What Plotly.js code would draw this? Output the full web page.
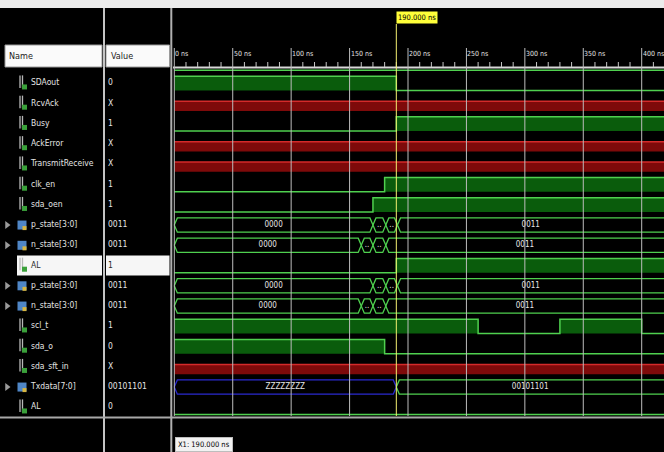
<!DOCTYPE html>
<html><head><meta charset="utf-8">
<script src="https://cdn.plot.ly/plotly-3.0.1.min.js"></script>
<style>html,body{margin:0;padding:0;background:#000;}#chart{width:664px;height:452px;}</style>
</head><body><div id="chart"></div>
<script>
// ---------- data ----------
const rowNames  = ["", "SDAout","RcvAck","Busy","AckError","TransmitReceive","clk_en","sda_oen","p_state[3:0]","n_state[3:0]","AL","p_state[3:0]","n_state[3:0]","scl_t","sda_o","sda_sft_in","Txdata[7:0]","AL"];
const rowValues = ["", "0","X","1","X","X","1","1","0011","0011","1","0011","0011","1","0","X","00101101","0"];
const rowKinds  = ["bit","bit","x","bit","x","x","bit","bit","bus","bus","bit","bus","bus","bit","bit","x","bus","bit"];

const tTop = [0];            const vTop = [0];
const tSDAout = [0, 190];    const vSDAout = [1, 0];
const tBusy = [0, 190];      const vBusy = [0, 1];
const tClkEn = [0, 180];     const vClkEn = [0, 1];
const tSdaOen = [0, 170];    const vSdaOen = [0, 1];
const tPState = [0, 170, 181, 191]; const vPState = ["0000", "0001", "0010", "0011"];
const tNState = [0, 160, 170, 181]; const vNState = ["0000", "0001", "0010", "0011"];
const tAL = [0, 190];        const vAL = [0, 1];
const tSclT = [0, 260, 330, 400]; const vSclT = [1, 0, 1, 0];
const tSdaO = [0, 180];      const vSdaO = [1, 0];
const tTxdata = [0, 190];    const vTxdata = ["ZZZZZZZZ", "00101101"];
const tAL2 = [0];            const vAL2 = [0];
const tX = [0];              const vX = ["X"];

const rowTimes  = [tTop, tSDAout, tX, tBusy, tX, tX, tClkEn, tSdaOen, tPState, tNState, tAL, tPState, tNState, tSclT, tSdaO, tX, tTxdata, tAL2];
const rowLevels = [vTop, vSDAout, vX, vBusy, vX, vX, vClkEn, vSdaOen, vPState, vNState, vAL, vPState, vNState, vSclT, vSdaO, vX, vTxdata, vAL2];

const majorTicks = [0, 50, 100, 150, 200, 250, 300, 350, 400];
const cursorTime = 190;
const highlightRow = 10;

// ---------- geometry helpers ----------
const W = 664, H = 452;
const px = x => x / W;
const py = y => 1 - y / H;
const T_MIN = (173 - 174.3) / 1.1685, T_MAX = (664 - 174.3) / 1.1685, T_END = 440;
const HALF = 0.35, TAPER = 2.6;
const FONT = "'Liberation Sans Narrow', 'DejaVu Sans Condensed', 'Liberation Sans', sans-serif";
const GREEN = '#4fd04f', GFILL = '#0a5c0c', RED = '#d42a2a', RFILL = '#7e0a0a', BLUE = '#2a2ad0';

const traces = [];
const busLabelX = [], busLabelY = [], busLabelT = [];

rowNames.forEach((nm, i) => {
  const pos = i - 1;
  const t = rowTimes[i], v = rowLevels[i], kind = rowKinds[i];
  const hi = pos - HALF, lo = pos + HALF;
  if (kind === 'bit') {
    traces.push({x: [t[0], T_END], y: [lo, lo], mode: 'lines', line: {width: 0}, hoverinfo: 'skip', showlegend: false});
    traces.push({x: t.concat([T_END]), y: v.map(l => l ? hi : lo).concat([v[v.length - 1] ? hi : lo]),
      mode: 'lines', line: {shape: 'hv', color: GREEN, width: 1.5}, fill: 'tonexty', fillcolor: GFILL,
      hoverinfo: 'skip', showlegend: false});
  } else if (kind === 'x') {
    traces.push({x: [t[0], T_END], y: [pos + 0.37, pos + 0.37], mode: 'lines', line: {width: 0}, hoverinfo: 'skip', showlegend: false});
    traces.push({x: [t[0], T_END], y: [pos - 0.11, pos - 0.11], mode: 'lines', line: {color: RED, width: 1.5},
      fill: 'tonexty', fillcolor: RFILL, hoverinfo: 'skip', showlegend: false});
  } else {
    const groups = {};
    t.forEach((t0, k) => {
      const t1 = k + 1 < t.length ? t[k + 1] : T_END;
      const col = /Z/.test(v[k]) ? BLUE : GREEN;
      if (!groups[col]) groups[col] = {x: [], y: []};
      const g = groups[col];
      g.x.push(t0, t0 + TAPER, t1 - TAPER, t1, t1 - TAPER, t0 + TAPER, t0, null);
      g.y.push(pos, hi, hi, pos, lo, lo, pos, null);
      const a = Math.max(t0, T_MIN), b = Math.min(t1, T_MAX);
      busLabelX.push((a + b) / 2);
      busLabelY.push(pos);
      busLabelT.push((t1 - t0) < 25 ? '..' : v[k]);
    });
    Object.keys(groups).forEach(col => {
      traces.push({x: groups[col].x, y: groups[col].y, mode: 'lines', line: {color: col, width: 1.3},
        connectgaps: false, hoverinfo: 'skip', showlegend: false});
    });
  }
});

traces.push({x: busLabelX, y: busLabelY, text: busLabelT, mode: 'text', textposition: 'middle center',
  textfont: {family: FONT, size: 8, color: '#e6e6e6'}, hoverinfo: 'skip', showlegend: false});

// ---------- name / value panel ----------
const textCol = rowNames.map((_, i) => i === highlightRow ? '#2a2a2a' : '#e4e4e4');
const rowPos = rowNames.map((_, i) => i - 1);
const shown = rowNames.map((n, i) => n !== '');
const sel = arr => arr.filter((_, i) => shown[i]);

traces.push({x: sel(rowNames).map(() => 31), y: sel(rowPos), text: sel(rowNames), xaxis: 'x2', mode: 'text',
  textposition: 'middle right', textfont: {family: FONT, size: 8.5, color: sel(textCol)}, hoverinfo: 'skip', showlegend: false});
traces.push({x: sel(rowValues).map(() => 108), y: sel(rowPos), text: sel(rowValues), xaxis: 'x2', mode: 'text',
  textposition: 'middle right', textfont: {family: FONT, size: 8.5, color: sel(textCol)}, hoverinfo: 'skip', showlegend: false});

// icons
const bitRows = rowPos.filter((p, i) => shown[i] && rowKinds[i] !== 'bus');
const busRows = rowPos.filter((p, i) => shown[i] && rowKinds[i] === 'bus');
traces.push({x: bitRows.map(() => 20), y: bitRows.map(p => p - 0.08), xaxis: 'x2', mode: 'markers',
  marker: {symbol: 'line-ns', size: 9, line: {color: '#b8b8b8', width: 1.3}}, hoverinfo: 'skip', showlegend: false});
traces.push({x: bitRows.map(() => 22.5), y: bitRows.map(p => p - 0.08), xaxis: 'x2', mode: 'markers',
  marker: {symbol: 'line-ns', size: 9, line: {color: '#b8b8b8', width: 1.3}}, hoverinfo: 'skip', showlegend: false});
traces.push({x: bitRows.map(() => 24.5), y: bitRows.map(p => p + 0.18), xaxis: 'x2', mode: 'markers',
  marker: {symbol: 'square', size: 5, color: '#3aa03a'}, hoverinfo: 'skip', showlegend: false});
traces.push({x: busRows.map(() => 7), y: busRows, xaxis: 'x2', mode: 'markers',
  marker: {symbol: 'triangle-right', size: 7, color: '#9a9a9a'}, hoverinfo: 'skip', showlegend: false});
traces.push({x: busRows.map(() => 22), y: busRows, xaxis: 'x2', mode: 'markers',
  marker: {symbol: 'square', size: 9, color: '#4f86c6'}, hoverinfo: 'skip', showlegend: false});
traces.push({x: busRows.map(() => 24.5), y: busRows.map(p => p + 0.15), xaxis: 'x2', mode: 'markers',
  marker: {symbol: 'square', size: 4, color: '#d8b640'}, hoverinfo: 'skip', showlegend: false});

// ---------- decorations ----------
const shapes = [];
shapes.push({type: 'rect', xref: 'paper', yref: 'paper', x0: 0, x1: 1, y0: py(8), y1: 1, fillcolor: '#ececec', line: {width: 0}, layer: 'below'});
shapes.push({type: 'rect', xref: 'paper', yref: 'paper', x0: px(5), x1: px(102), y0: py(67), y1: py(45), fillcolor: '#fafafa', line: {color: '#9a9a9a', width: 1}, layer: 'below'});
shapes.push({type: 'rect', xref: 'paper', yref: 'paper', x0: px(106), x1: px(169.5), y0: py(67), y1: py(45), fillcolor: '#fafafa', line: {color: '#9a9a9a', width: 1}, layer: 'below'});
const hy = 83.3 + (highlightRow - 1) * 20.25;
shapes.push({type: 'rect', xref: 'paper', yref: 'paper', x0: px(17), x1: px(102), y0: py(hy + 10), y1: py(hy - 10), fillcolor: '#f6f6f6', line: {width: 0}, layer: 'below'});
shapes.push({type: 'rect', xref: 'paper', yref: 'paper', x0: px(106), x1: px(169.5), y0: py(hy + 10), y1: py(hy - 10), fillcolor: '#f6f6f6', line: {width: 0}, layer: 'below'});
shapes.push({type: 'line', xref: 'paper', yref: 'paper', x0: px(104), x1: px(104), y0: 0, y1: py(8), line: {color: '#c4c4c4', width: 2}});
shapes.push({type: 'line', xref: 'paper', yref: 'paper', x0: px(171.3), x1: px(171.3), y0: 0, y1: py(8), line: {color: '#b0b0b0', width: 2}});
shapes.push({type: 'line', xref: 'paper', yref: 'paper', x0: 0, x1: 1, y0: py(417.5), y1: py(417.5), line: {color: '#a8a8a8', width: 2}});
shapes.push({type: 'line', xref: 'paper', yref: 'paper', x0: px(173), x1: 1, y0: py(67.5), y1: py(67.5), line: {color: '#d8d8d8', width: 2}});
majorTicks.forEach(t => shapes.push({type: 'line', xref: 'x', yref: 'paper', x0: t, x1: t, y0: py(416), y1: py(48),
  line: {color: '#bdbdbd', width: 1}, layer: 'above'}));
for (let t = 10; t < T_MAX; t += 10) {
  if (t % 50 === 0) continue;
  shapes.push({type: 'line', xref: 'x', yref: 'paper', x0: t, x1: t, y0: py(67), y1: py(62), line: {color: '#c8c8c8', width: 1}});
}
shapes.push({type: 'line', xref: 'x', yref: 'paper', x0: cursorTime, x1: cursorTime, y0: py(416), y1: py(24),
  line: {color: '#f4f070', width: 1}, layer: 'above'});

const annotations = [];
annotations.push({xref: 'paper', yref: 'paper', x: px(7), y: py(56), xanchor: 'left', yanchor: 'middle', showarrow: false,
  text: 'Name', font: {family: FONT, size: 9, color: '#222'}});
annotations.push({xref: 'paper', yref: 'paper', x: px(109), y: py(56), xanchor: 'left', yanchor: 'middle', showarrow: false,
  text: 'Value', font: {family: FONT, size: 9, color: '#222'}});
majorTicks.forEach(t => annotations.push({xref: 'x', yref: 'paper', x: t, y: py(54), xanchor: 'left', yanchor: 'middle',
  showarrow: false, borderpad: 0, xshift: 0, text: t + ' ns', font: {family: FONT, size: 7, color: '#e0e0e0'}}));
annotations.push({xref: 'x', yref: 'paper', x: cursorTime, y: py(17), xanchor: 'left', yanchor: 'middle', showarrow: false,
  text: cursorTime.toFixed(3) + ' ns', bgcolor: '#ffff3a', borderpad: 1, font: {family: FONT, size: 7.5, color: '#000'}});
annotations.push({xref: 'paper', yref: 'paper', x: px(175), y: py(444), xanchor: 'left', yanchor: 'middle', showarrow: false,
  text: 'X1: ' + cursorTime.toFixed(3) + ' ns', bgcolor: '#f2f2f2', bordercolor: '#bdbdbd', borderwidth: 1, borderpad: 2,
  font: {family: FONT, size: 7.5, color: '#000'}});

const layout = {
  width: W, height: H,
  margin: {l: 0, r: 0, t: 0, b: 0, pad: 0},
  paper_bgcolor: '#000', plot_bgcolor: 'rgba(0,0,0,0)',
  showlegend: false, hovermode: false,
  xaxis: {domain: [px(173), 1], range: [T_MIN, T_MAX], visible: false, fixedrange: true},
  xaxis2: {domain: [0, px(172)], range: [0, 172], visible: false, anchor: 'y', fixedrange: true},
  yaxis: {domain: [0, 1], range: [(H - 83.3) / 20.25, -83.3 / 20.25], visible: false, fixedrange: true},
  shapes: shapes, annotations: annotations
};

Plotly.newPlot('chart', traces, layout, {displayModeBar: false, staticPlot: true});
</script>
</body></html>
